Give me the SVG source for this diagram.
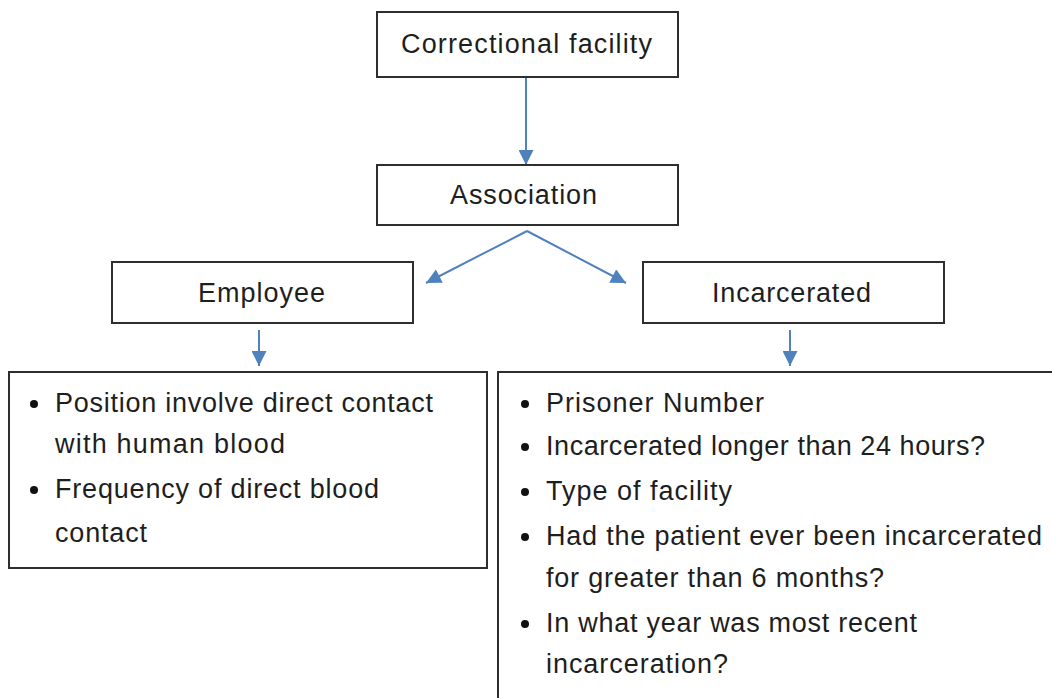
<svg xmlns="http://www.w3.org/2000/svg" width="1052" height="698" viewBox="0 0 1052 698">
<style>
.box{fill:#fff;stroke:#2e2e2e;stroke-width:2}
.t{font-family:"Liberation Sans",Arial,sans-serif;font-size:27px;fill:#1e1e1e}
.con{stroke:#4f81bd;stroke-width:2;fill:none}
.bul{fill:#111}
</style>
<defs>
<marker id="ah" viewBox="0 0 12 12" refX="12" refY="6" markerWidth="16" markerHeight="15" markerUnits="userSpaceOnUse" orient="auto">
<path d="M0,0 L12,6 L0,12 z" fill="#4f81bd"/>
</marker>
</defs>
<rect width="1052" height="698" fill="#fff"/>
<g id="connectors">
<line class="con" x1="526" y1="78" x2="526" y2="165" marker-end="url(#ah)"/>
<line class="con" x1="527" y1="231" x2="426" y2="283" marker-end="url(#ah)"/>
<line class="con" x1="527" y1="231" x2="626" y2="283" marker-end="url(#ah)"/>
<line class="con" x1="259" y1="330" x2="259" y2="366" marker-end="url(#ah)"/>
<line class="con" x1="790" y1="330" x2="790" y2="366" marker-end="url(#ah)"/>
</g>
<g id="correctional">
<rect class="box" x="377" y="12" width="301" height="65"/>
<text class="t" x="401" y="53" textLength="251" lengthAdjust="spacing">Correctional facility</text>
</g>
<g id="association">
<rect class="box" x="377" y="165" width="301" height="60"/>
<text class="t" x="450" y="204" textLength="147" lengthAdjust="spacing">Association</text>
</g>
<g id="employee">
<rect class="box" x="112" y="262" width="301" height="61"/>
<text class="t" x="198" y="302" textLength="127" lengthAdjust="spacing">Employee</text>
</g>
<g id="incarcerated">
<rect class="box" x="643" y="262" width="301" height="61"/>
<text class="t" x="712" y="302" textLength="159" lengthAdjust="spacing">Incarcerated</text>
</g>
<g id="employee-details">
<rect class="box" x="9" y="372" width="478" height="196"/>
<circle class="bul" cx="34" cy="404" r="4"/>
<text class="t" x="55" y="412" textLength="378" lengthAdjust="spacing">Position involve direct contact</text>
<text class="t" x="55" y="453" textLength="230" lengthAdjust="spacing">with human blood</text>
<circle class="bul" cx="34" cy="490" r="4"/>
<text class="t" x="55" y="498" textLength="324" lengthAdjust="spacing">Frequency of direct blood</text>
<text class="t" x="55" y="542" textLength="92" lengthAdjust="spacing">contact</text>
</g>
<g id="incarcerated-details">
<rect class="box" x="498" y="372" width="570" height="340"/>
<circle class="bul" cx="525" cy="404" r="4"/>
<text class="t" x="546" y="412" textLength="218" lengthAdjust="spacing">Prisoner Number</text>
<circle class="bul" cx="525" cy="447" r="4"/>
<text class="t" x="546" y="455" textLength="439" lengthAdjust="spacing">Incarcerated longer than 24 hours?</text>
<circle class="bul" cx="525" cy="492" r="4"/>
<text class="t" x="546" y="500" textLength="186" lengthAdjust="spacing">Type of facility</text>
<circle class="bul" cx="525" cy="537" r="4"/>
<text class="t" x="546" y="545" textLength="496" lengthAdjust="spacing">Had the patient ever been incarcerated</text>
<text class="t" x="546" y="587" textLength="338" lengthAdjust="spacing">for greater than 6 months?</text>
<circle class="bul" cx="525" cy="624" r="4"/>
<text class="t" x="546" y="632" textLength="371" lengthAdjust="spacing">In what year was most recent</text>
<text class="t" x="546" y="673" textLength="182" lengthAdjust="spacing">incarceration?</text>
</g>
</svg>
